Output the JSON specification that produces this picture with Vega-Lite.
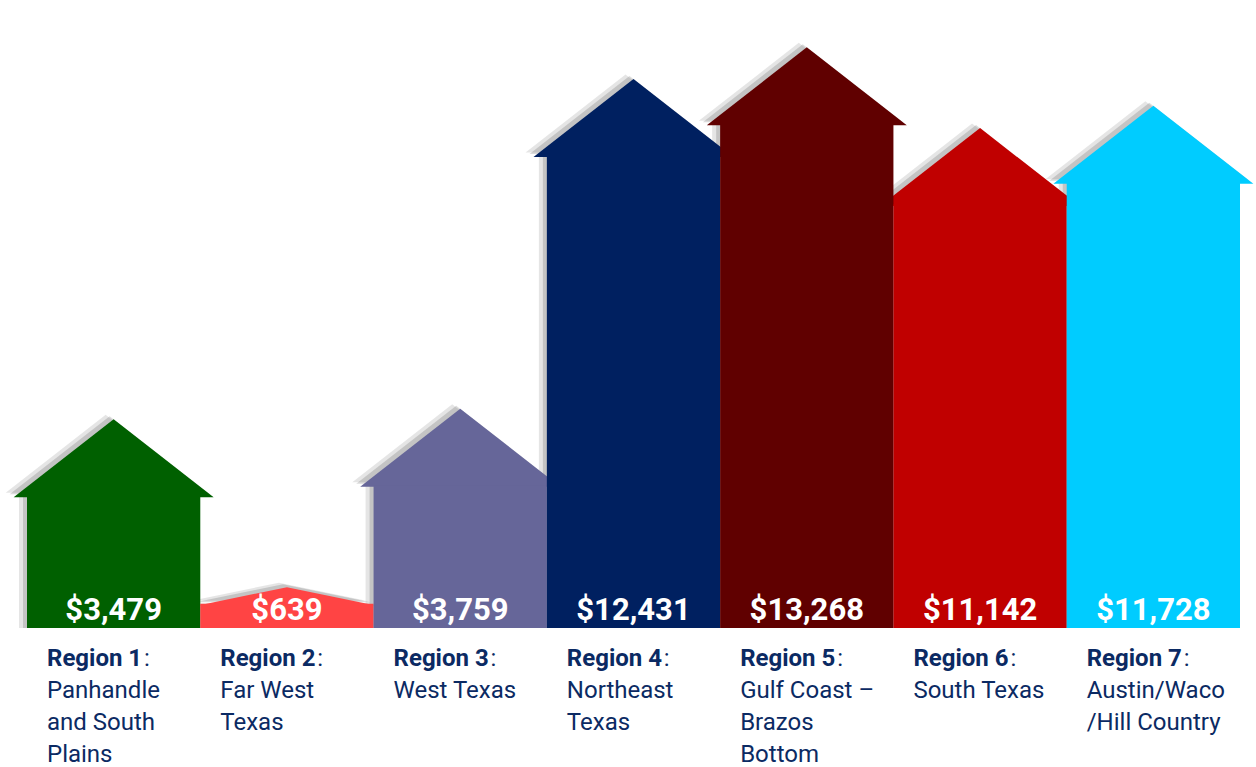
{
  "$schema": "https://vega.github.io/schema/vega-lite/v6.json",
  "width": 1256,
  "height": 767,
  "padding": 0,
  "background": "white",
  "config": {"view": {"stroke": null}},
  "data": {
    "values": [
      {"region": "Region 1", "desc": "Panhandle\nand South\nPlains", "value": 3479},
      {"region": "Region 2", "desc": "Far West\nTexas", "value": 639},
      {"region": "Region 3", "desc": "West Texas", "value": 3759},
      {"region": "Region 4", "desc": "Northeast\nTexas", "value": 12431},
      {"region": "Region 5", "desc": "Gulf Coast –\nBrazos\nBottom", "value": 13268},
      {"region": "Region 6", "desc": "South Texas", "value": 11142},
      {"region": "Region 7", "desc": "Austin/Waco\n/Hill Country", "value": 11728}
    ]
  },
  "encoding": {
    "x": {"field": "region", "type": "nominal", "axis": null,
      "scale": {"range": [27, 1240], "paddingInner": 0, "paddingOuter": 0}},
    "y": {"field": "value", "type": "quantitative", "axis": null,
      "scale": {"domain": [-3658, 16526], "nice": false, "zero": false}}
  },
  "layer": [
    {
      "mark": {"type": "point", "filled": true, "opacity": 0.1, "color": "black", "strokeWidth": 0, "size": 40000, "xOffset": -8, "yOffset": -3},
      "encoding": {
        "shape": {"condition": {"test": "datum.value < 1000", "value": "M -0.875 0 L 0 -0.18 L 0.875 0 Z"}, "value": "M -1 0 L 0 -0.78 L 1 0 Z"}
      }
    },
    {
      "mark": {"type": "point", "filled": true, "opacity": 0.14, "color": "black", "strokeWidth": 0, "size": 40000, "xOffset": -4, "yOffset": -1.5},
      "encoding": {
        "shape": {"condition": {"test": "datum.value < 1000", "value": "M -0.875 0 L 0 -0.18 L 0.875 0 Z"}, "value": "M -1 0 L 0 -0.78 L 1 0 Z"}
      }
    },
    {
      "mark": {"type": "bar", "color": "black", "opacity": 0.1, "xOffset": -8},
      "encoding": {"y2": {"datum": 0}}
    },
    {
      "mark": {"type": "bar", "color": "black", "opacity": 0.14, "xOffset": -4},
      "encoding": {"y2": {"datum": 0}}
    },
    {
      "mark": {"type": "point", "filled": true, "opacity": 1, "strokeWidth": 0, "size": 40000, "yOffset": 1.5},
      "encoding": {
        "color": {"field": "region", "type": "nominal", "legend": null,
          "scale": {"domain": ["Region 1", "Region 2", "Region 3", "Region 4", "Region 5", "Region 6", "Region 7"],
            "range": ["#006000", "#FF4444", "#666699", "#002060", "#600000", "#C00000", "#00CCFF"]}},
        "shape": {"condition": {"test": "datum.value < 1000", "value": "M -0.875 0 L 0 -0.18 L 0.875 0 Z"}, "value": "M -1 0 L 0 -0.78 L 1 0 Z"}
      }
    },
    {
      "mark": {"type": "bar", "opacity": 1},
      "encoding": {
        "y2": {"datum": 0},
        "color": {"field": "region", "type": "nominal", "legend": null}
      }
    },
    {
      "mark": {"type": "text", "font": "Roboto", "fontWeight": "bold", "fontSize": 31, "color": "white", "align": "center", "baseline": "alphabetic", "dy": -8},
      "encoding": {
        "y": {"datum": 0},
        "text": {"field": "value", "type": "quantitative", "format": "$,"}
      }
    },
    {
      "mark": {"type": "text", "font": "Roboto", "fontWeight": "bold", "fontSize": 24, "color": "#0B2A63", "align": "left", "baseline": "alphabetic", "dx": 20, "dy": 38},
      "encoding": {
        "x": {"field": "region", "type": "nominal", "bandPosition": 0},
        "y": {"datum": 0},
        "text": {"field": "region"}
      }
    },
    {
      "mark": {"type": "text", "font": "Roboto", "fontSize": 24, "color": "#0B2A63", "align": "left", "baseline": "alphabetic", "dx": 117, "dy": 38},
      "encoding": {
        "x": {"field": "region", "type": "nominal", "bandPosition": 0},
        "y": {"datum": 0},
        "text": {"value": ":"}
      }
    },
    {
      "mark": {"type": "text", "font": "Roboto", "fontSize": 24, "color": "#0B2A63", "align": "left", "baseline": "alphabetic", "dx": 20, "dy": 70, "lineBreak": "\n", "lineHeight": 32},
      "encoding": {
        "x": {"field": "region", "type": "nominal", "bandPosition": 0},
        "y": {"datum": 0},
        "text": {"field": "desc"}
      }
    }
  ]
}
